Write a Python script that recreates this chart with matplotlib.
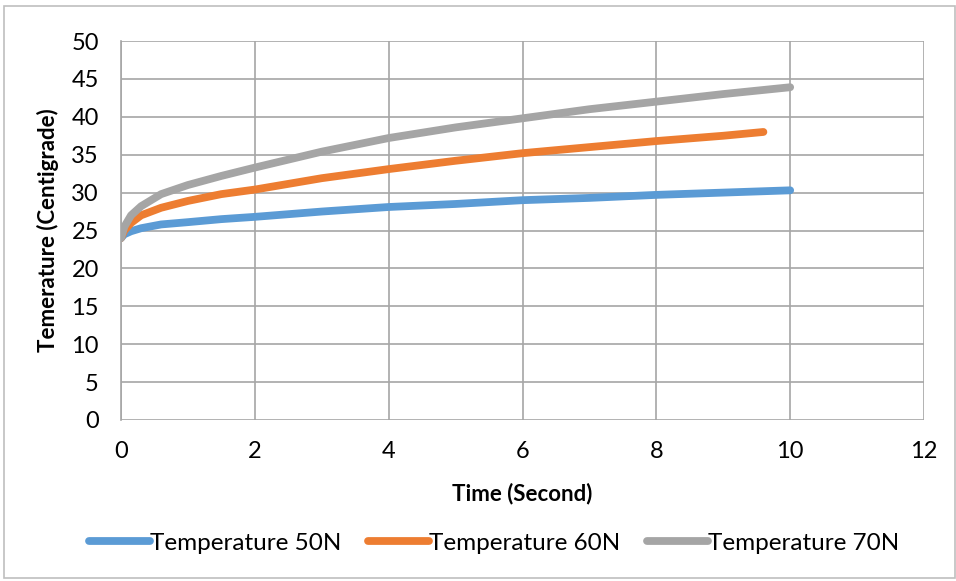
import matplotlib
matplotlib.use("Agg")
import matplotlib.pyplot as plt
from matplotlib.patches import Rectangle

plt.rcParams['font.family'] = ['Lato', 'DejaVu Sans']

# Temperature readings over time for three normal loads
time_50 = [0, 0.05, 0.15, 0.3, 0.6, 1, 1.5, 2, 3, 4, 5, 6, 7, 8, 9, 10]
temp_50 = [24.0, 24.5, 24.9, 25.3, 25.8, 26.1, 26.5, 26.8, 27.5, 28.1, 28.5, 29.0, 29.3, 29.7, 30.0, 30.3]

time_60 = [0, 0.05, 0.15, 0.3, 0.6, 1, 1.5, 2, 3, 4, 5, 6, 7, 8, 9, 9.6]
temp_60 = [24.0, 25.0, 26.0, 27.0, 28.0, 28.9, 29.8, 30.4, 31.9, 33.1, 34.2, 35.2, 36.0, 36.8, 37.5, 38.0]

time_70 = [0, 0.05, 0.15, 0.3, 0.6, 1, 1.5, 2, 3, 4, 5, 6, 7, 8, 9, 10]
temp_70 = [24.0, 25.5, 27.0, 28.2, 29.8, 31.0, 32.2, 33.3, 35.4, 37.2, 38.6, 39.8, 41.0, 42.0, 43.0, 43.9]

labels = ["Temperature 50N", "Temperature 60N", "Temperature 70N"]
colors = ["#5B9BD5", "#ED7D31", "#A5A5A5"]

x_ticks = [0, 2, 4, 6, 8, 10, 12]
y_ticks = [0, 5, 10, 15, 20, 25, 30, 35, 40, 45, 50]

W, H = 956, 581
fig = plt.figure(figsize=(W / 100, H / 100), dpi=100)
fig.patches.append(Rectangle((4 / W, 1 - 578 / H), 951 / W, 572 / H,
                             transform=fig.transFigure, fill=False,
                             edgecolor="#BFBFBF", linewidth=1.2))

ax = fig.add_axes([121 / W, 1 - 420 / H, 803 / W, 379 / H])

series = [(time_50, temp_50), (time_60, temp_60), (time_70, temp_70)]
for (t, v), lab, c in zip(series, labels, colors):
    ax.plot(t, v, color=c, lw=5.6, solid_capstyle="round", label=lab)

ax.set_xlim(0, 12)
ax.set_ylim(0, 50)
ax.set_xticks(x_ticks)
ax.set_yticks(y_ticks)
ax.grid(True, color="#A6A6A6", linewidth=1.2)
ax.set_axisbelow(True)
for side in ["top", "right", "bottom"]:
    ax.spines[side].set_visible(False)
ax.spines["left"].set_color("#A6A6A6")
ax.spines["left"].set_linewidth(1.2)
ax.tick_params(length=0, labelsize=17)
ax.tick_params(axis="x", pad=15)
ax.tick_params(axis="y", pad=16)

ax.set_xlabel("Time (Second)", fontsize=16, fontweight="bold", labelpad=15)
ax.set_ylabel("Temerature (Centigrade)", fontsize=16, fontweight="bold", labelpad=8.5)

ax.legend(loc="center", bbox_to_anchor=(0.4645, -0.325), ncol=3, frameon=False,
          fontsize=17.5, handlelength=2.5, handletextpad=0.0, columnspacing=1.1)

fig.savefig("out.png", dpi=100)
